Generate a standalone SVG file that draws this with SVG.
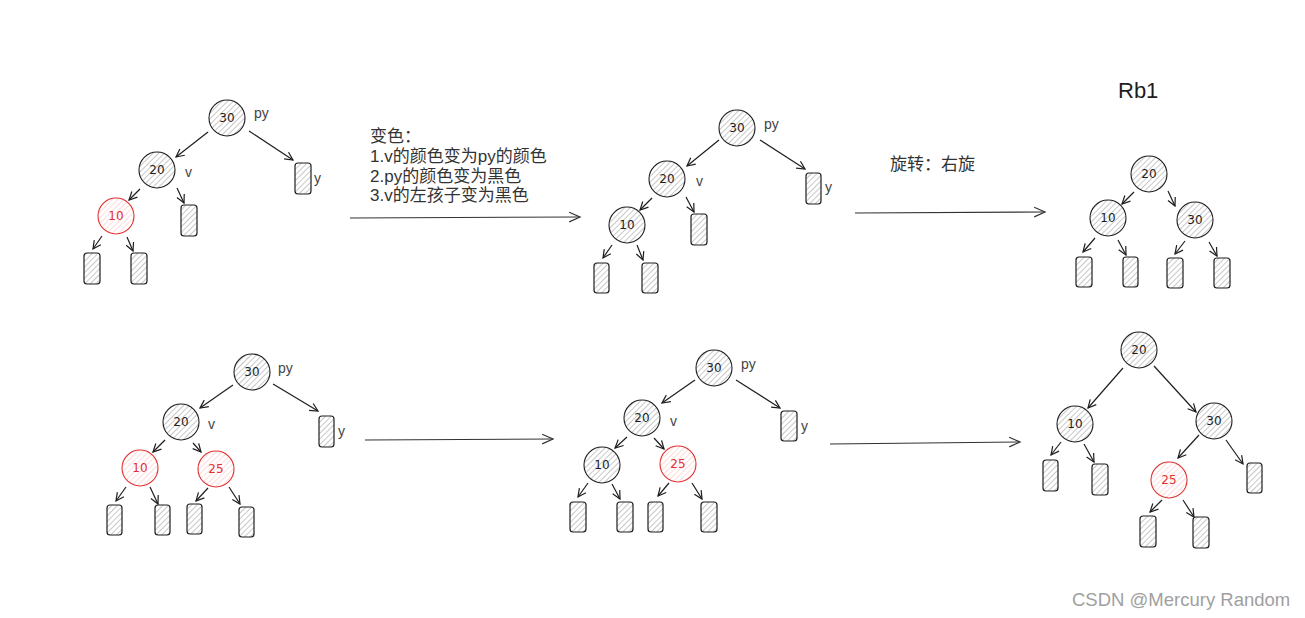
<svg xmlns="http://www.w3.org/2000/svg" width="1305" height="618" viewBox="0 0 1305 618">
<style>
.n{fill:url(#hb);stroke:#1e1e1e;stroke-width:1.1}
.r{fill:url(#hr);stroke:#e03131;stroke-width:1.1}
.leaf{fill:url(#hb);stroke:#1e1e1e;stroke-width:1.2}
.num{font-family:"DejaVu Sans",sans-serif;font-size:12px;text-anchor:middle;fill:#1e1e1e}
.numr{fill:#e03131}
.lbl{font-family:"Liberation Sans","Noto Sans CJK SC",sans-serif;font-size:14px;fill:#444}
.cn{font-family:"Liberation Sans","Noto Sans CJK SC",sans-serif;font-size:17px;fill:#333}
.e{stroke:#1e1e1e;stroke-width:1.2;fill:none;marker-end:url(#ah)}
.big{stroke:#333;stroke-width:1.1;fill:none;marker-end:url(#ab)}
</style>
<defs>
<pattern id="hb" patternUnits="userSpaceOnUse" width="4" height="4" patternTransform="rotate(45)">
<rect width="4" height="4" fill="#fff"/><line x1="0" y1="0" x2="0" y2="4" stroke="#9a9a9a" stroke-width="1.1"/>
</pattern>
<pattern id="hr" patternUnits="userSpaceOnUse" width="4" height="4" patternTransform="rotate(45)">
<rect width="4" height="4" fill="#fff"/><line x1="0" y1="0" x2="0" y2="4" stroke="#ffc0c0" stroke-width="1.1"/>
</pattern>
<marker id="ah" viewBox="0 0 10 10" refX="9" refY="5" markerWidth="10" markerHeight="10" markerUnits="userSpaceOnUse" orient="auto">
<path d="M1,1 L9,5 L1,9" fill="none" stroke="#1e1e1e" stroke-width="1.2"/>
</marker>
<marker id="ab" viewBox="0 0 10 10" refX="9" refY="5" markerWidth="14" markerHeight="12" markerUnits="userSpaceOnUse" orient="auto">
<path d="M0,1 L9,5 L0,9" fill="none" stroke="#333" stroke-width="1"/>
</marker>
</defs>
<rect width="1305" height="618" fill="#fff"/>

<g id="connectors">
<line class="e" x1="208" y1="132" x2="176" y2="157"/>
<line class="e" x1="249" y1="131" x2="293" y2="160"/>
<line class="e" x1="140" y1="189" x2="129" y2="200"/>
<line class="e" x1="177" y1="188" x2="184" y2="203"/>
<line class="e" x1="102" y1="236" x2="93" y2="249"/>
<line class="e" x1="127" y1="237" x2="133" y2="251"/>
<line class="e" x1="719" y1="140" x2="687" y2="166"/>
<line class="e" x1="760" y1="140" x2="805" y2="169"/>
<line class="e" x1="652" y1="198" x2="640" y2="210"/>
<line class="e" x1="686" y1="197" x2="694" y2="212"/>
<line class="e" x1="612" y1="245" x2="603" y2="258"/>
<line class="e" x1="637" y1="245" x2="643" y2="260"/>
<line class="e" x1="1134" y1="192" x2="1122" y2="204"/>
<line class="e" x1="1168" y1="191" x2="1175" y2="206"/>
<line class="e" x1="1095" y1="238" x2="1083" y2="252"/>
<line class="e" x1="1118" y1="240" x2="1126" y2="255"/>
<line class="e" x1="1185" y1="241" x2="1175" y2="254"/>
<line class="e" x1="1209" y1="242" x2="1217" y2="256"/>
<line class="e" x1="233" y1="385" x2="200" y2="408"/>
<line class="e" x1="273" y1="384" x2="318" y2="411"/>
<line class="e" x1="165" y1="440" x2="153" y2="452"/>
<line class="e" x1="193" y1="443" x2="201" y2="452"/>
<line class="e" x1="126" y1="487" x2="116" y2="501"/>
<line class="e" x1="150" y1="487" x2="158" y2="504"/>
<line class="e" x1="208" y1="488" x2="196" y2="501"/>
<line class="e" x1="229" y1="487" x2="240" y2="504"/>
<line class="e" x1="695" y1="380" x2="662" y2="403"/>
<line class="e" x1="736" y1="380" x2="780" y2="408"/>
<line class="e" x1="627" y1="437" x2="615" y2="448"/>
<line class="e" x1="654" y1="438" x2="664" y2="449"/>
<line class="e" x1="588" y1="483" x2="578" y2="497"/>
<line class="e" x1="612" y1="484" x2="620" y2="499"/>
<line class="e" x1="669" y1="483" x2="658" y2="496"/>
<line class="e" x1="692" y1="483" x2="702" y2="499"/>
<line class="e" x1="1123" y1="368" x2="1088" y2="408"/>
<line class="e" x1="1154" y1="366" x2="1196" y2="412"/>
<line class="e" x1="1061" y1="442" x2="1051" y2="455"/>
<line class="e" x1="1084" y1="444" x2="1094" y2="462"/>
<line class="e" x1="1199" y1="435" x2="1178" y2="458"/>
<line class="e" x1="1226" y1="440" x2="1243" y2="464"/>
<line class="e" x1="1162" y1="500" x2="1150" y2="512"/>
<line class="e" x1="1183" y1="500" x2="1194" y2="517"/>
<line class="big" x1="350" y1="218" x2="580" y2="217"/>
<line class="big" x1="855" y1="213" x2="1045" y2="212"/>
<line class="big" x1="365" y1="440" x2="553" y2="439"/>
<line class="big" x1="830" y1="444" x2="1020" y2="442"/>
</g>

<g id="t1-n30"><circle class="n" cx="227" cy="118" r="18"/><text class="num" x="227" y="122">30</text><text class="lbl" x="254" y="118">py</text></g>
<g id="t1-n20"><circle class="n" cx="157" cy="170" r="18"/><text class="num" x="157" y="174">20</text><text class="lbl" x="185" y="177">v</text></g>
<g id="t1-n10"><circle class="r" cx="116" cy="216" r="18"/><text class="num numr" x="116" y="220">10</text></g>
<g id="t1-l20r"><rect class="leaf" x="181" y="205" width="16" height="31" rx="3"/></g>
<g id="t1-y"><rect class="leaf" x="295" y="163" width="16" height="31" rx="3"/><text class="lbl" x="314" y="183">y</text></g>
<g id="t1-l1"><rect class="leaf" x="84" y="253" width="16" height="31" rx="3"/></g>
<g id="t1-l2"><rect class="leaf" x="131" y="253" width="16" height="31" rx="3"/></g>

<g id="note1">
<text class="cn" x="370" y="142">变色：</text>
<text class="cn" x="370" y="162">1.v的颜色变为py的颜色</text>
<text class="cn" x="370" y="182">2.py的颜色变为黑色</text>
<text class="cn" x="370" y="201">3.v的左孩子变为黑色</text>
</g>

<g id="t2-n30"><circle class="n" cx="737" cy="128" r="18"/><text class="num" x="737" y="132">30</text><text class="lbl" x="764" y="129">py</text></g>
<g id="t2-n20"><circle class="n" cx="667" cy="179" r="18"/><text class="num" x="667" y="183">20</text><text class="lbl" x="696" y="186">v</text></g>
<g id="t2-n10"><circle class="n" cx="627" cy="225" r="18"/><text class="num" x="627" y="229">10</text></g>
<g id="t2-l20r"><rect class="leaf" x="691" y="214" width="16" height="31" rx="3"/></g>
<g id="t2-y"><rect class="leaf" x="806" y="173" width="15" height="31" rx="3"/><text class="lbl" x="825" y="192">y</text></g>
<g id="t2-l1"><rect class="leaf" x="594" y="263" width="15" height="30" rx="3"/></g>
<g id="t2-l2"><rect class="leaf" x="642" y="263" width="16" height="30" rx="3"/></g>

<g id="note2"><text class="cn" x="890" y="170">旋转：右旋</text></g>
<g id="title"><text x="1118" y="98" font-family="Liberation Sans, Arial, sans-serif" font-size="22" fill="#1e1e1e">Rb1</text></g>

<g id="t3-n20"><circle class="n" cx="1149" cy="174" r="18"/><text class="num" x="1149" y="178">20</text></g>
<g id="t3-n10"><circle class="n" cx="1108" cy="218" r="18"/><text class="num" x="1108" y="222">10</text></g>
<g id="t3-n30"><circle class="n" cx="1195" cy="220" r="18"/><text class="num" x="1195" y="224">30</text></g>
<g id="t3-l1"><rect class="leaf" x="1076" y="257" width="16" height="30" rx="3"/></g>
<g id="t3-l2"><rect class="leaf" x="1123" y="257" width="15" height="30" rx="3"/></g>
<g id="t3-l3"><rect class="leaf" x="1167" y="258" width="16" height="30" rx="3"/></g>
<g id="t3-l4"><rect class="leaf" x="1214" y="258" width="16" height="30" rx="3"/></g>

<g id="t4-n30"><circle class="n" cx="252" cy="372" r="18"/><text class="num" x="252" y="376">30</text><text class="lbl" x="278" y="373">py</text></g>
<g id="t4-n20"><circle class="n" cx="181" cy="422" r="18"/><text class="num" x="181" y="426">20</text><text class="lbl" x="208" y="429">v</text></g>
<g id="t4-n10"><circle class="r" cx="140" cy="468" r="18"/><text class="num numr" x="140" y="472">10</text></g>
<g id="t4-n25"><circle class="r" cx="216" cy="469" r="18"/><text class="num numr" x="216" y="473">25</text></g>
<g id="t4-y"><rect class="leaf" x="319" y="416" width="15" height="31" rx="3"/><text class="lbl" x="338" y="436">y</text></g>
<g id="t4-l1"><rect class="leaf" x="107" y="505" width="15" height="30" rx="3"/></g>
<g id="t4-l2"><rect class="leaf" x="155" y="505" width="15" height="30" rx="3"/></g>
<g id="t4-l3"><rect class="leaf" x="187" y="504" width="15" height="30" rx="3"/></g>
<g id="t4-l4"><rect class="leaf" x="239" y="507" width="15" height="30" rx="3"/></g>

<g id="t5-n30"><circle class="n" cx="714" cy="368" r="18"/><text class="num" x="714" y="372">30</text><text class="lbl" x="741" y="369">py</text></g>
<g id="t5-n20"><circle class="n" cx="642" cy="418" r="18"/><text class="num" x="642" y="422">20</text><text class="lbl" x="670" y="426">v</text></g>
<g id="t5-n10"><circle class="n" cx="602" cy="465" r="18"/><text class="num" x="602" y="469">10</text></g>
<g id="t5-n25"><circle class="r" cx="678" cy="464" r="18"/><text class="num numr" x="678" y="468">25</text></g>
<g id="t5-y"><rect class="leaf" x="781" y="411" width="16" height="30" rx="3"/><text class="lbl" x="801" y="431">y</text></g>
<g id="t5-l1"><rect class="leaf" x="570" y="502" width="16" height="30" rx="3"/></g>
<g id="t5-l2"><rect class="leaf" x="617" y="502" width="16" height="30" rx="3"/></g>
<g id="t5-l3"><rect class="leaf" x="648" y="502" width="15" height="30" rx="3"/></g>
<g id="t5-l4"><rect class="leaf" x="701" y="502" width="16" height="30" rx="3"/></g>

<g id="t6-n20"><circle class="n" cx="1139" cy="350" r="18"/><text class="num" x="1139" y="354">20</text></g>
<g id="t6-n10"><circle class="n" cx="1075" cy="424" r="18"/><text class="num" x="1075" y="428">10</text></g>
<g id="t6-n30"><circle class="n" cx="1214" cy="421" r="18"/><text class="num" x="1214" y="425">30</text></g>
<g id="t6-n25"><circle class="r" cx="1169" cy="480" r="18"/><text class="num numr" x="1169" y="484">25</text></g>
<g id="t6-l1"><rect class="leaf" x="1043" y="460" width="15" height="31" rx="3"/></g>
<g id="t6-l2"><rect class="leaf" x="1092" y="464" width="16" height="31" rx="3"/></g>
<g id="t6-l3"><rect class="leaf" x="1247" y="463" width="15" height="30" rx="3"/></g>
<g id="t6-l4"><rect class="leaf" x="1140" y="516" width="16" height="31" rx="3"/></g>
<g id="t6-l5"><rect class="leaf" x="1193" y="517" width="16" height="31" rx="3"/></g>

<g id="watermark"><text x="1072" y="606" font-family="Liberation Sans, Arial, sans-serif" font-size="18.5" fill="#a0a0a0">CSDN @Mercury Random</text></g>
</svg>
